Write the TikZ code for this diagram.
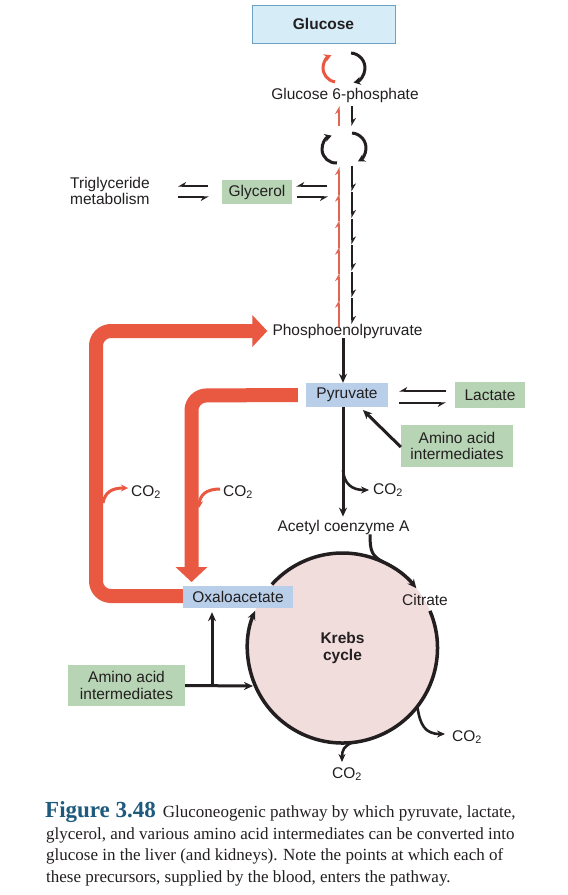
\documentclass[tikz,border=0pt]{standalone}
\usepackage{fontspec}
\setmainfont{Liberation Sans}
\newfontfamily\capfont{Liberation Serif}
\usetikzlibrary{arrows.meta}
\definecolor{redc}{RGB}{233,89,66}
\definecolor{redthin}{RGB}{226,100,82}
\definecolor{boxgreen}{RGB}{183,212,181}
\definecolor{boxblue}{RGB}{184,206,233}
\definecolor{glufill}{RGB}{214,237,248}
\definecolor{gluline}{RGB}{110,160,195}
\definecolor{krebsfill}{RGB}{242,221,221}
\definecolor{ink}{RGB}{35,31,32}
\definecolor{figblue}{RGB}{30,90,125}
\tikzset{
  lbl/.style={font=\fontsize{15.5}{17}\selectfont, inner sep=0pt, text=ink},
  gbox/.style={lbl, fill=boxgreen, align=center},
  bbox/.style={lbl, fill=boxblue, align=center},
  blk/.style={draw=ink, line width=3pt, -{Stealth[length=9pt,width=8pt]}},
  harp/.style={draw=ink, line width=2pt, -{Stealth[length=7pt,width=8pt,harpoon,swap]}},
  colred/.style={draw=redthin, line width=1.8pt, -{Stealth[length=7pt,width=8pt,harpoon]}},
  colblk/.style={draw=ink, line width=1.6pt, -{Stealth[length=7pt,width=8pt,harpoon]}},
  arcred/.style={draw=redc, line width=3pt, -{Stealth[length=7pt,width=8pt]}},
  arcblk/.style={draw=ink, line width=3pt, -{Stealth[length=7pt,width=8pt]}},
  bigred/.style={draw=redc, line width=14pt, rounded corners=15pt, -{Triangle[length=15pt,width=31pt]}},
  smallred/.style={draw=redc, line width=3pt, -{Stealth[length=7pt,width=7pt]}},
  cyc/.style={draw=ink, line width=3.5pt, -{Stealth[length=9pt,width=8pt]}},
  thinblk/.style={draw=ink, line width=2.6pt, -{Stealth[length=8pt,width=7pt]}},
  caption/.style={font=\capfont\fontsize{17}{20}\selectfont, inner sep=0pt, anchor=base west, text=ink}
}
\begin{document}
\begin{tikzpicture}[x=1pt,y=-1pt]
\useasboundingbox (0,0) rectangle (568,895);
\fill[white] (0,0) rectangle (568,895);

% ---- nodes ----
\node[lbl, fill=glufill, draw=gluline, line width=1pt, minimum width=143pt, minimum height=38pt, font=\fontsize{15.5}{17}\selectfont\bfseries] (glucose) at (323.5,24) {Glucose};
\node[lbl] (g6p) at (345,95) {Glucose 6-phosphate};
\node[lbl, anchor=west, align=left, font=\fontsize{15.5}{16.5}\selectfont] (trig) at (70,191) {Triglyceride\\metabolism};
\node[gbox, minimum width=70pt, minimum height=24pt] (glycerol) at (257,192) {Glycerol};
\node[lbl] (pep) at (347.5,331) {Phosphoenolpyruvate};
\node[bbox, minimum width=82pt, minimum height=24pt] (pyr) at (347,395) {Pyruvate};
\node[gbox, minimum width=70pt, minimum height=26pt] (lac) at (490,395) {Lactate};
\node[gbox, minimum width=112pt, minimum height=42pt, font=\fontsize{15.5}{16.5}\selectfont] (amino1) at (457,446) {Amino acid\\intermediates};
\node[lbl] (acetyl) at (343.5,527) {Acetyl coenzyme A};
\node[gbox, minimum width=117pt, minimum height=41pt, font=\fontsize{15.5}{16.5}\selectfont] (amino2) at (126.5,685.5) {Amino acid\\intermediates};

% ---- coordinates ----
\coordinate (c1l) at (337,68);
\coordinate (c1r) at (350,68);
\coordinate (c2l) at (336,149);
\coordinate (c2r) at (351,148);
\coordinate (kc) at (342.5,648);

% ---- Krebs cycle ----
\node[circle, fill=krebsfill, minimum size=190pt, inner sep=0pt, lbl, font=\fontsize{15.5}{16.5}\selectfont\bfseries, align=center] (krebs) at (kc) {Krebs\\cycle};
\draw[cyc] ([shift={(222:95)}]kc) arc[start angle=222, end angle=321, radius=95];
\draw[cyc] ([shift={(337:95)}]kc) arc[start angle=337, end angle=563, radius=95];
\node[lbl] (citrate) at (425,600) {Citrate};
\draw[draw=ink, line width=3pt] (acetyl.south -| 370,0) .. controls (370,552) and (372,556) .. ([shift={(-64:95)}]kc);
\coordinate (co2a) at (445,734);
\draw[thinblk] ([shift={(38:95)}]kc) .. controls (420,725) and (425,734) .. (co2a);
\node[lbl, anchor=west] (co2al) at (452,737) {CO\textsubscript{2}};
\coordinate (co2b) at (342,762);
\draw[thinblk] ([shift={(84:95)}]kc) .. controls (344,746) and (342,750) .. (co2b);
\node[lbl] (co2bl) at (347,774) {CO\textsubscript{2}};

% ---- red big arrows ----
\draw[bigred] (183,596) -- (96,596) -- (96,331) -- ([xshift=-5pt]pep.west);
\draw[bigred] ([xshift=-8pt]pyr.west) -- (191.5,395.5) -- (191.5,582);
\node[bbox, minimum width=110pt, minimum height=22pt] (oxa) at (238,597) {Oxaloacetate};

% small red CO2 arrows
\coordinate (r1) at (128,488);
\draw[smallred] (103,503) .. controls (105,492) and (112,488) .. (r1);
\node[lbl, anchor=west] (co2r1) at (131,492) {CO\textsubscript{2}};
\coordinate (r2) at (199,508);
\draw[smallred] (220,489) .. controls (206,489) and (200,495) .. (r2);
\node[lbl, anchor=west] (co2r2) at (223,492) {CO\textsubscript{2}};

% ---- top cycles ----
\draw[arcred] ([shift={(98:14)}]c1l) arc[start angle=98, end angle=246, radius=14];
\draw[arcblk] ([shift={(-86:15)}]c1r) arc[start angle=-86, end angle=76, radius=15];
\draw[arcblk] ([shift={(86:14)}]c2l) arc[start angle=86, end angle=252, radius=14];
\draw[arcblk] ([shift={(-86:15)}]c2r) arc[start angle=-86, end angle=62, radius=15];

% short pair below G6P
\draw[colred] (339,126) -- (339,106);
\draw[colblk] (352,106) -- (352,126);
% column
\foreach \i in {0,...,5}{
  \draw[colred] (339,{194.5+26.5*\i}) -- (339,{167+26.5*\i});
  \draw[colblk] (352,{165.5+26.5*\i}) -- (352,{191.5+26.5*\i});
}

% ---- equilibrium harpoons ----
\draw[harp] (327,186) -- ([xshift=4pt]glycerol.east |- 0,186);
\draw[harp] ([xshift=5pt]glycerol.east |- 0,197) -- (328,197);
\draw[harp] ([xshift=-14pt]glycerol.west |- 0,186) -- (178,186);
\draw[harp] (178,197) -- ([xshift=-13pt]glycerol.west |- 0,197);
\draw[harp] ([xshift=-9pt]lac.west |- 0,391) -- ([xshift=11pt]pyr.east |- 0,391);
\draw[harp] ([xshift=11pt]pyr.east |- 0,403) -- ([xshift=-9pt]lac.west |- 0,403);

% ---- black main arrows ----
\draw[blk] (pep.south -| 343,0) -- (pyr.north -| 343,0);
\draw[blk] (pyr.south -| 343,0) -- ([yshift=3pt]acetyl.north -| 343,0);
\coordinate (co2p) at (369,490);
\draw[thinblk] (343,470) .. controls (344,484) and (352,490) .. (co2p);
\node[lbl, anchor=west] (co2pl) at (373,490) {CO\textsubscript{2}};
\draw[blk] (amino1.west |- 0,447) -- (363,410);

% amino 2
\draw[blk] (amino2.east) -- (253,686);
\draw[blk] (212,687) -- ([yshift=-4pt]oxa.south -| 212,0);

% ---- caption ----
\node[caption] (cap1) at (45,817) {{\color{figblue}\bfseries\fontsize{23}{26}\selectfont Figure 3.48}\hspace{7pt}Gluconeogenic pathway by which pyruvate, lactate,};
\node[caption] (cap2) at (46,839) {glycerol, and various amino acid intermediates can be converted into};
\node[caption] (cap3) at (46,860.5) {glucose in the liver (and kidneys). Note the points at which each of};
\node[caption] (cap4) at (46,882) {these precursors, supplied by the blood, enters the pathway.};
\end{tikzpicture}
\end{document}
